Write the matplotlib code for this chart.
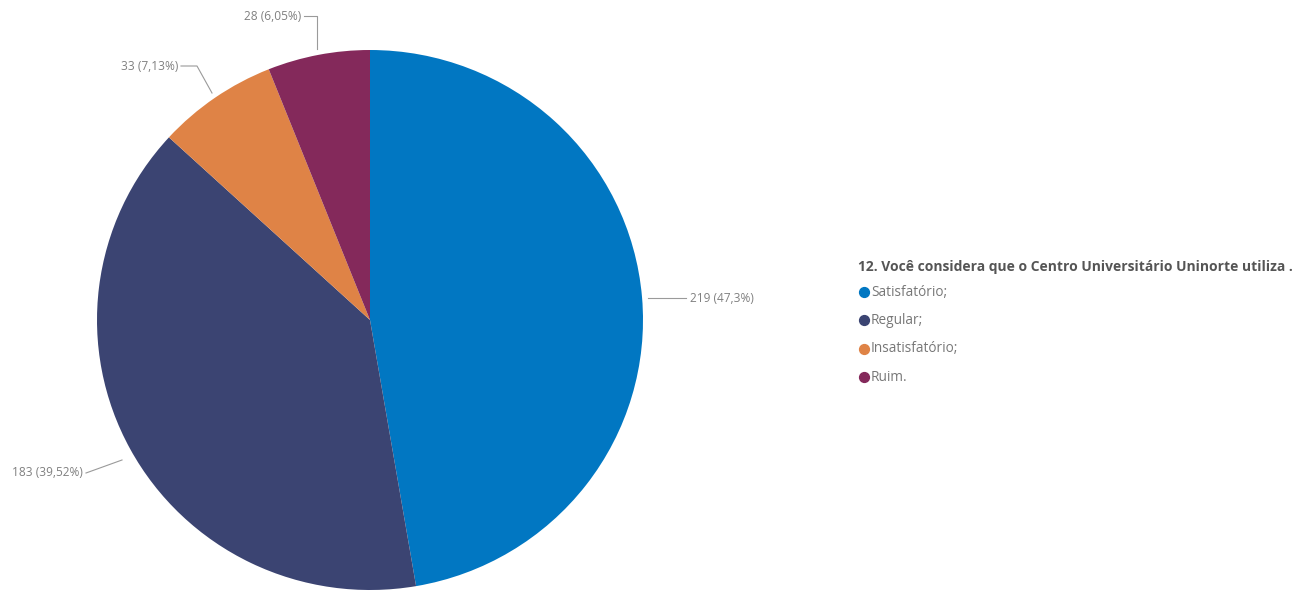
import matplotlib.pyplot as plt

plt.rcParams['font.family'] = ['Open Sans', 'DejaVu Sans']

categories = ['Satisfatório;', 'Regular;', 'Insatisfatório;', 'Ruim.']
counts = [219, 183, 33, 28]
pct_labels = ['219 (47,3%)', '183 (39,52%)', '33 (7,13%)', '28 (6,05%)']
colors = ['#0177C2', '#3B4472', '#DF8346', '#84295B']
title = '12. Você considera que o Centro Universitário Uninorte utiliza .'

W, H = 1300, 592
fig = plt.figure(figsize=(13, 5.92), dpi=100)

# pie in its own box (slightly wider than tall, like the source image)
cx, cy, rx, ry = 370, 320, 273, 270
axp = fig.add_axes([(cx - rx) / W, (H - cy - ry) / H, 2 * rx / W, 2 * ry / H])
axp.pie(counts, colors=colors, startangle=90, counterclock=False,
        radius=1, wedgeprops=dict(linewidth=0))
axp.set_xlim(-1, 1)
axp.set_ylim(-1, 1)
axp.set_aspect('auto')
axp.axis('off')

# overlay axes in pixel units for labels and legend
ax = fig.add_axes([0, 0, 1, 1])
ax.set_xlim(0, W)
ax.set_ylim(H, 0)
ax.axis('off')

lc = '#9a9a9a'
tc = '#808080'
leaders = [
    ([648, 686], [298, 298], (690, 298), 'left'),
    ([122, 86], [460, 473], (83, 473), 'right'),
    ([212, 197, 181], [93, 66, 66], (178, 66), 'right'),
    ([317, 317, 304], [49, 16, 16], (301, 17), 'right'),
]
for (xs, ys, (tx, ty), ha), lab in zip(leaders, pct_labels):
    ax.plot(xs, ys, color=lc, lw=0.8)
    ax.text(tx, ty, lab, ha=ha, va='center', fontsize=8.6, color=tc)

# legend
ax.text(858, 267, title, ha='left', va='center', fontsize=10,
        fontweight='bold', color='#555555')
for i, (cat, col) in enumerate(zip(categories, colors)):
    y = 292 + i * 28.4
    ax.scatter([864], [y], s=50, color=col, zorder=3)
    ax.text(871, y, cat, ha='left', va='center', fontsize=9.8, color='#777777')

fig.savefig('out.png', dpi=100)
